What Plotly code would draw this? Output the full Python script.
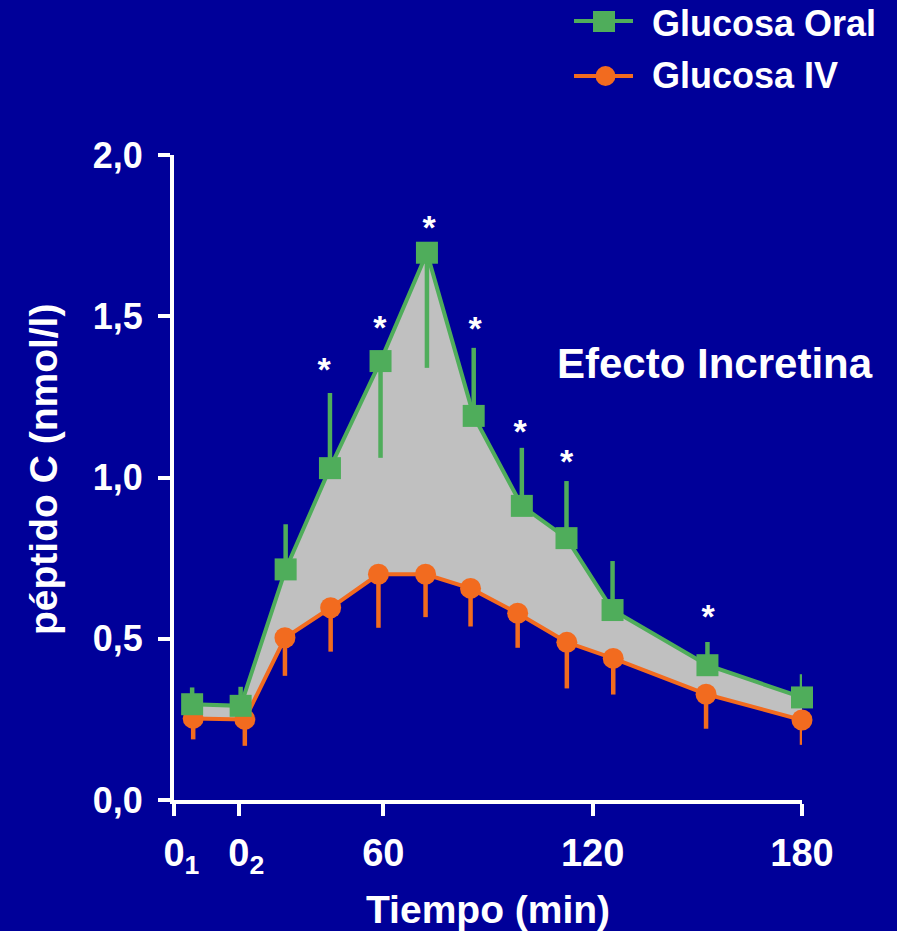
import plotly.graph_objects as go

# ---------------- data ----------------
time_oral = [5.2, 19.1, 32.0, 44.7, 59.2, 72.5, 85.9, 99.7, 112.5, 125.7, 152.9, 180.0]
cpep_oral = [0.297, 0.292, 0.715, 1.029, 1.361, 1.697, 1.191, 0.912, 0.812, 0.589, 0.418, 0.318]
err_oral_up = [0.052, 0.059, 0.140, 0.233, 0.0, 0.0, 0.211, 0.180, 0.177, 0.152, 0.072, 0.072]
err_oral_down = [0, 0, 0, 0, 0.300, 0.357, 0, 0, 0, 0, 0, 0]

time_iv = [5.5, 20.3, 31.8, 44.9, 58.6, 72.1, 85.0, 98.5, 112.6, 125.9, 152.5, 180.0]
cpep_iv = [0.253, 0.250, 0.503, 0.596, 0.700, 0.700, 0.656, 0.579, 0.489, 0.439, 0.328, 0.248]
err_iv_down = [0.065, 0.082, 0.118, 0.136, 0.166, 0.133, 0.118, 0.107, 0.143, 0.112, 0.107, 0.077]

sig_time = [43.0, 59.0, 73.1, 86.3, 99.2, 112.5, 153.1]
sig_y = [1.325, 1.455, 1.765, 1.452, 1.134, 1.040, 0.560]

x_tickvals = [0, 18.6, 60, 120, 180]
x_ticktext = ["<sub>&nbsp;&nbsp;</sub>0<sub>1</sub>",
              "<sub>&nbsp;&nbsp;</sub>0<sub>2</sub>",
              "60", "120", "180"]
y_tickvals = [0, 0.5, 1.0, 1.5, 2.0]
y_ticktext = ["0,0", "0,5", "1,0", "1,5", "2,0"]

series_names = ["Glucosa Oral", "Glucosa IV"]

# ---------------- style ----------------
BG = "#000099"
GREEN = "#4FAD5B"
ORANGE = "#F26B1F"
FILL = "#C0C0C0"
FONT = "Liberation Sans, Arial, sans-serif"

W, H = 897, 931
L, R, T, B = 174, 95, 155, 131
PW, PH = W - L - R, H - T - B


def px(x):
    return (x - L) / PW


def py(y):
    return (H - B - y) / PH


fig = go.Figure()

fig.add_trace(go.Scatter(
    x=time_iv, y=cpep_iv, mode="lines+markers", name=series_names[1],
    line=dict(color=ORANGE, width=4),
    marker=dict(symbol="circle", size=21, color=ORANGE),
    error_y=dict(type="data", symmetric=False, array=[0] * len(err_iv_down),
                 arrayminus=err_iv_down, color=ORANGE, thickness=4.5, width=0),
    showlegend=False, cliponaxis=False,
))

fig.add_trace(go.Scatter(
    x=time_oral, y=cpep_oral, mode="lines+markers", name=series_names[0],
    line=dict(color=GREEN, width=4),
    marker=dict(symbol="square", size=22, color=GREEN),
    fill="tonexty", fillcolor=FILL,
    error_y=dict(type="data", symmetric=False, array=err_oral_up,
                 arrayminus=err_oral_down, color=GREEN, thickness=4.5, width=0),
    showlegend=False, cliponaxis=False,
))

fig.add_trace(go.Scatter(
    x=sig_time, y=sig_y, mode="text", text=["*"] * len(sig_time),
    textposition="middle center",
    textfont=dict(color="white", size=34, family=FONT, weight="bold"),
    showlegend=False, hoverinfo="skip", cliponaxis=False,
))

shapes = []
annotations = []

# manual legend
leg_rows = [(21, 24, GREEN, "square", series_names[0]),
            (76, 75.5, ORANGE, "circle", series_names[1])]
for yy, ty, col, sym, name in leg_rows:
    shapes.append(dict(type="line", xref="paper", yref="paper",
                       x0=px(574), x1=px(633), y0=py(yy), y1=py(yy),
                       line=dict(color=col, width=4)))
    if sym == "square":
        shapes.append(dict(type="rect", xref="paper", yref="paper",
                           x0=px(593), x1=px(615), y0=py(yy - 10), y1=py(yy + 11),
                           fillcolor=col, line=dict(width=0)))
    else:
        shapes.append(dict(type="circle", xref="paper", yref="paper",
                           x0=px(595.5), x1=px(615.5), y0=py(yy - 10), y1=py(yy + 10),
                           fillcolor=col, line=dict(width=0)))
    annotations.append(dict(text=name, xref="paper", yref="paper",
                            x=px(650), y=py(ty), xanchor="left", yanchor="middle",
                            showarrow=False,
                            font=dict(color="white", size=36, family=FONT, weight="bold")))

annotations.append(dict(text="Efecto Incretina", xref="paper", yref="paper",
                        x=px(715), y=py(363), xanchor="center", yanchor="middle",
                        showarrow=False,
                        font=dict(color="white", size=42, family=FONT, weight="bold")))
annotations.append(dict(text="péptido C (nmol/l)", xref="paper", yref="paper",
                        x=px(43), y=py(470), xanchor="center", yanchor="middle",
                        textangle=-90, showarrow=False,
                        font=dict(color="white", size=39, family=FONT, weight="bold")))
annotations.append(dict(text="Tiempo (min)", xref="paper", yref="paper",
                        x=px(488), y=py(909), xanchor="center", yanchor="middle",
                        showarrow=False,
                        font=dict(color="white", size=39, family=FONT, weight="bold")))

fig.update_layout(
    width=W, height=H,
    margin=dict(l=L, r=R, t=T, b=B, pad=0),
    paper_bgcolor=BG, plot_bgcolor=BG,
    shapes=shapes, annotations=annotations,
    showlegend=False,
)

fig.update_xaxes(
    range=[0, 180], tickvals=x_tickvals, ticktext=x_ticktext,
    showgrid=False, zeroline=False, showline=True, linecolor="white", linewidth=4,
    ticks="outside", ticklen=12, tickwidth=4, tickcolor="white",
    ticklabelstandoff=4,
    tickfont=dict(color="white", size=38, family=FONT, weight="bold"),
)
fig.update_yaxes(
    range=[0, 2], tickvals=y_tickvals, ticktext=y_ticktext,
    showgrid=False, zeroline=False, showline=True, linecolor="white", linewidth=4,
    ticks="outside", ticklen=12, tickwidth=4, tickcolor="white",
    ticklabelstandoff=8,
    tickfont=dict(color="white", size=36, family=FONT, weight="bold"),
)

fig.write_html("out.html")
